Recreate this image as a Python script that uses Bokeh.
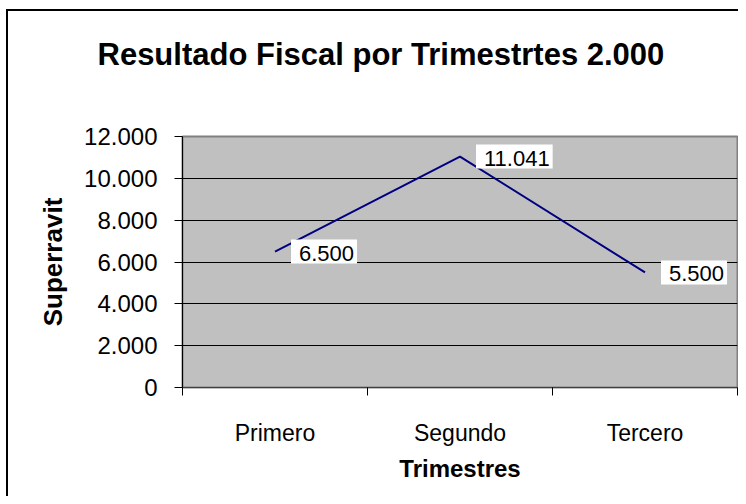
from bokeh.plotting import figure
from bokeh.models import Range1d, FixedTicker, CustomJSTickFormatter, Label, LinearAxis
from bokeh.embed import file_html
from bokeh.resources import INLINE

# ---- data ----
categories = ["Primero", "Segundo", "Tercero"]
superavit = [6500, 11041, 5500]
y_ticks = [0, 2000, 4000, 6000, 8000, 10000, 12000]
title_text = "Resultado Fiscal por Trimestrtes 2.000"
x_label = "Trimestres"
y_label = "Superravit"

FONT = "Liberation Sans"

xs = [i + 0.5 for i in range(len(categories))]
bounds = list(range(len(categories) + 1))

p = figure(width=738, height=496, output_backend="svg", toolbar_location=None,
           x_range=Range1d(0, len(categories)), y_range=Range1d(0, 12000),
           min_border_left=182, min_border_right=1, min_border_top=136,
           min_border_bottom=109)

xa = p.below[0]
ya = p.left[0]

p.background_fill_color = "#C0C0C0"
# transparent canvas border so the host background (with the chart-area border) shows
p.border_fill_alpha = 0
p.styles = {
    "background": ("linear-gradient(#000, #000) 6px 9px / 2px 100% no-repeat, "
                   "linear-gradient(#000, #000) 6px 9px / 100% 2px no-repeat, "
                   "#ffffff"),
}
p.outline_line_color = "#808080"
p.outline_line_width = 2

# invisible spacer between title and plot area
spacer = LinearAxis(ticker=FixedTicker(ticks=[]), axis_line_color=None,
                    major_tick_out=0, major_tick_in=0, major_tick_line_color=None,
                    minor_tick_out=0, minor_tick_in=0, minor_tick_line_color=None,
                    major_label_standoff=0, major_label_text_alpha=0,
                    axis_label=".", axis_label_text_alpha=0,
                    axis_label_text_font=FONT, axis_label_text_font_size="20px",
                    axis_label_standoff=43)
p.add_layout(spacer, "above")

# title
p.title.text = title_text
p.title.align = "left"
p.title.offset = -85
p.title.text_font = FONT
p.title.text_font_size = "31px"
p.title.text_font_style = "bold"
p.title.text_color = "black"

# grid
p.xgrid.visible = False
p.ygrid.ticker = FixedTicker(ticks=y_ticks)
p.ygrid.grid_line_color = "black"
p.ygrid.grid_line_width = 1
p.ygrid.grid_line_alpha = 1

# y axis
ya.ticker = FixedTicker(ticks=y_ticks)
ya.formatter = CustomJSTickFormatter(code="""
    return Math.round(tick).toString().replace(/\\B(?=(\\d{3})+(?!\\d))/g, ".");
""")
ya.axis_line_color = "black"
ya.major_tick_line_color = "black"
ya.major_tick_out = 8
ya.major_tick_in = 0
ya.minor_tick_line_color = None
ya.major_label_standoff = 17
ya.major_label_text_font = FONT
ya.major_label_text_font_size = "24px"
ya.major_label_text_color = "black"
ya.axis_label = y_label
ya.axis_label_text_font = FONT
ya.axis_label_text_font_size = "26px"
ya.axis_label_text_font_style = "bold"
ya.axis_label_text_color = "black"
ya.axis_label_standoff = 13

# x axis
xa.ticker = FixedTicker(ticks=xs, minor_ticks=bounds)
xa.major_label_overrides = {x: c for x, c in zip(xs, categories)}
xa.axis_line_color = "#404040"
xa.major_tick_out = 0
xa.major_tick_in = 0
xa.minor_tick_out = 8
xa.minor_tick_in = 0
xa.minor_tick_line_color = "black"
xa.major_label_standoff = 24
xa.major_label_text_font = FONT
xa.major_label_text_font_size = "23px"
xa.major_label_text_color = "black"
xa.axis_label = x_label
xa.axis_label_text_font = FONT
xa.axis_label_text_font_size = "24px"
xa.axis_label_text_font_style = "bold"
xa.axis_label_text_color = "black"
xa.axis_label_standoff = 6

# line
p.line(xs, superavit, line_color="#000080", line_width=2)

# data labels
for x, v in zip(xs, superavit):
    txt = f"{v:,}".replace(",", ".")
    p.add_layout(Label(x=x, y=v, text=txt, x_offset=16, y_offset=0,
                       text_align="left", text_baseline="middle",
                       text_font=FONT, text_font_size="22px", text_color="black",
                       background_fill_color="white", background_fill_alpha=1,
                       padding=(8, 3, 6, 3)))

open("out.html", "w").write(file_html(p, INLINE))
